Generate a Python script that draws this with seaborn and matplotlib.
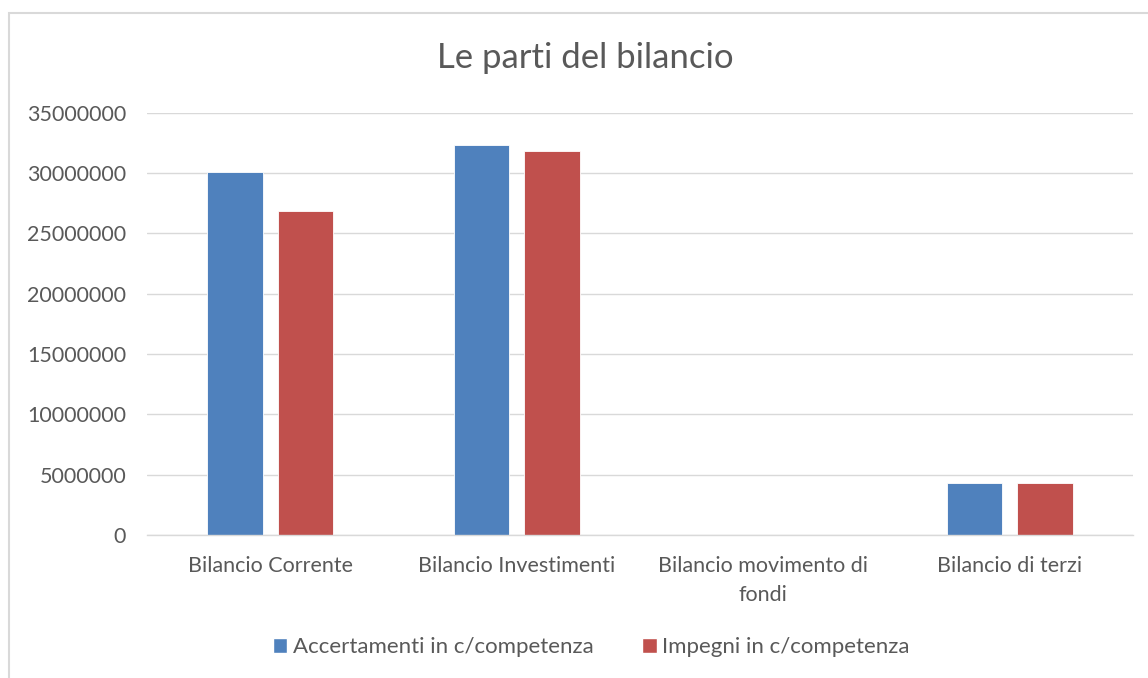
import matplotlib
matplotlib.use('Agg')
import matplotlib.pyplot as plt
import matplotlib.patches as mpatches
import pandas as pd
import seaborn as sns

# data
categories = ['Bilancio Corrente', 'Bilancio Investimenti',
              'Bilancio movimento di\nfondi', 'Bilancio di terzi']
accertamenti = [30050000, 32300000, 0, 4310000]
impegni = [26880000, 31780000, 0, 4310000]
series_names = ['Accertamenti in c/competenza', 'Impegni in c/competenza']
yticks = [0, 5000000, 10000000, 15000000, 20000000, 25000000, 30000000, 35000000]

db = pd.DataFrame({
  'categoria': categories * 2,
  'valore': accertamenti + impegni,
  'serie': [series_names[0]] * len(categories) + [series_names[1]] * len(categories),
})

sns.set_theme(style='white')
plt.rcParams['font.family'] = ['Lato', 'DejaVu Sans']

grey = '#595959'
palette = ['#4f81bd', '#c0504d']

fig = plt.figure(figsize=(11.48, 6.78), dpi=100)
ax = fig.add_axes([0.128, 0.211, 0.859, 0.623])

sns.barplot(data=db, x='categoria', y='valore', hue='serie',
            palette=palette, width=0.57, gap=0.21, saturation=1,
            edgecolor='white', linewidth=0.6, ax=ax, legend=False)

ax.set_ylim(0, 35000000)
ax.set_xlim(-0.5, len(categories) - 0.5)
ax.set_yticks(yticks)
ax.set_yticklabels([str(v) for v in yticks])
ax.yaxis.grid(True, color='#d9d9d9', linewidth=1)
ax.set_axisbelow(True)
ax.set_xlabel('')
ax.set_ylabel('')
ax.tick_params(axis='both', length=0, labelsize=15.5, colors=grey)
ax.tick_params(axis='y', pad=15)
ax.tick_params(axis='x', pad=15)
for lbl in ax.get_xticklabels():
  lbl.set_linespacing(1.55)
for s in ['top', 'right', 'left']:
  ax.spines[s].set_visible(False)
ax.spines['bottom'].set_color('#d9d9d9')
ax.spines['bottom'].set_linewidth(1)

fig.text(0.51, 0.914, 'Le parti del bilancio', ha='center', va='center',
         fontsize=25, color=grey)

# legend
labels = [mpatches.Patch(facecolor=c, label=n) for c, n in zip(palette, series_names)]
fig.legend(handles=labels, loc='center', bbox_to_anchor=(0.515, 0.045), ncol=2,
           frameon=False, fontsize=16, labelcolor=grey, handlelength=0.65,
           handleheight=0.65, handletextpad=0.25, columnspacing=2.2)

# chart frame
fig.add_artist(mpatches.Rectangle((9 / 1148, -0.05), 1.2, 1 - 13 / 678 + 0.05,
                                  transform=fig.transFigure, fill=False,
                                  edgecolor='#d9d9d9', linewidth=1.5))

fig.savefig('out.png', dpi=100)
